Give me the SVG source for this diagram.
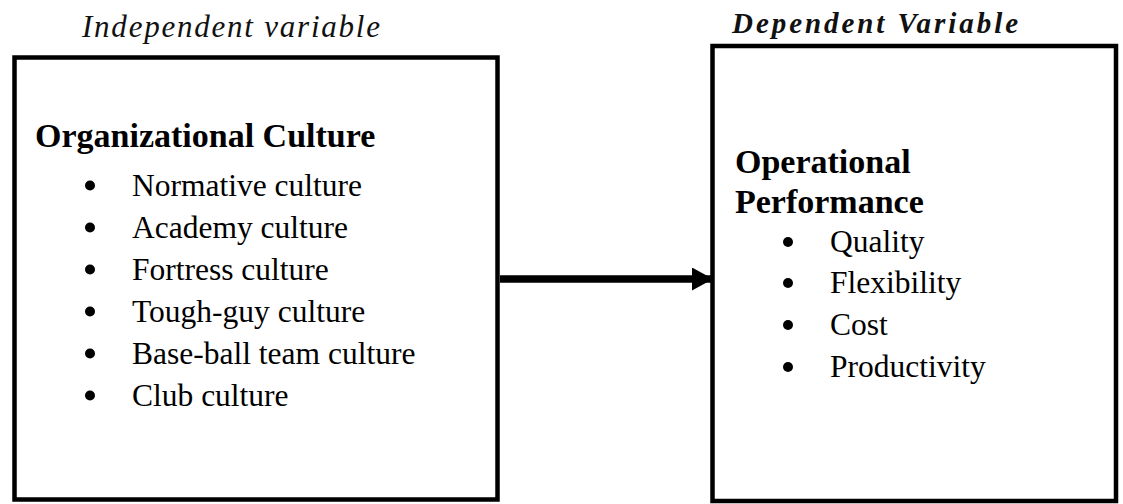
<svg xmlns="http://www.w3.org/2000/svg" width="1123" height="504" viewBox="0 0 1123 504">
<style>
.box{fill:#fff;stroke:#000;stroke-width:4.5}
.hdr{font-family:"Liberation Serif",serif;font-style:italic;fill:#111}
.ttl{font-family:"Liberation Serif",serif;font-weight:bold;font-size:34px;fill:#000}
.item{font-family:"Liberation Serif",serif;font-size:31.5px;fill:#000}
.dot{fill:#000}
</style>
<defs>
<marker id="ah" markerWidth="21" markerHeight="23" refX="21" refY="11.5" orient="auto" markerUnits="userSpaceOnUse">
<path d="M0,0 L21,11.5 L0,23 Z" fill="#000"/>
</marker>
</defs>
<rect width="1123" height="504" fill="#fff"/>
<text class="hdr" x="82" y="37" font-size="31" textLength="298" lengthAdjust="spacing">Independent variable</text>
<text class="hdr" x="732" y="33" font-size="29" font-weight="bold" textLength="286" lengthAdjust="spacing">Dependent Variable</text>
<g id="independent">
<rect class="box" x="14.5" y="57.5" width="483" height="442"/>
<text class="ttl" x="35" y="147">Organizational Culture</text>
<g class="item">
<circle class="dot" cx="90" cy="185.5" r="5"/><text x="132" y="196">Normative culture</text>
<circle class="dot" cx="90" cy="227.5" r="5"/><text x="132" y="238">Academy culture</text>
<circle class="dot" cx="90" cy="269.5" r="5"/><text x="132" y="280">Fortress culture</text>
<circle class="dot" cx="90" cy="311.5" r="5"/><text x="132" y="322">Tough-guy culture</text>
<circle class="dot" cx="90" cy="353.5" r="5"/><text x="132" y="364">Base-ball team culture</text>
<circle class="dot" cx="90" cy="395.5" r="5"/><text x="132" y="406">Club culture</text>
</g>
</g>
<g id="dependent">
<rect class="box" x="712.5" y="46" width="403.5" height="455"/>
<text class="ttl" x="735" y="173">Operational</text>
<text class="ttl" x="735" y="213">Performance</text>
<g class="item">
<circle class="dot" cx="788" cy="242" r="5"/><text x="830" y="252">Quality</text>
<circle class="dot" cx="788" cy="283" r="5"/><text x="830" y="293">Flexibility</text>
<circle class="dot" cx="788" cy="325" r="5"/><text x="830" y="335">Cost</text>
<circle class="dot" cx="788" cy="367" r="5"/><text x="830" y="377">Productivity</text>
</g>
</g>
<g id="connectors">
<line x1="500" y1="279" x2="713" y2="279" stroke="#000" stroke-width="7.5" marker-end="url(#ah)"/>
</g>
</svg>
